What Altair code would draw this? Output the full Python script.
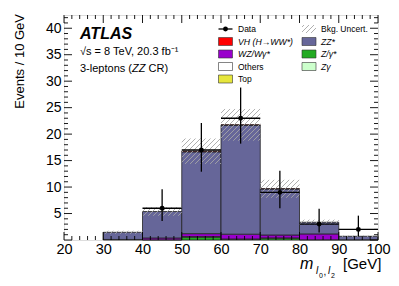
import altair as alt
import pandas as pd
import numpy as np

# ---------------- data ----------------
bin_lo = [20, 30, 40, 50, 60, 70, 80, 90]
bin_hi = [30, 40, 50, 60, 70, 80, 90, 100]
comp_names = ["Zγ", "Z/γ*", "Top", "Others", "WZ/Wγ*", "ZZ*", "VH (H→WW*)"]
zgam = [0, 0, 0, 0, 0, 0, 0, 0]
zgstar = [0, 0, 0, 0.5, 0.1, 0.3, 0, 0]
top = [0, 0, 0, 0, 0, 0, 0, 0]
others = [0, 0, 0.03, 0.15, 0.1, 0.1, 0.05, 0]
wz = [0, 0.1, 0.35, 0.55, 0.9, 0.55, 1.1, 0.05]
zz = [0, 1.35, 5.0, 15.45, 20.6, 8.7, 2.2, 0.65]
vh = [0, 0, 0, 0.12, 0.05, 0.02, 0, 0]
bkg_unc = [0, 0.3, 0.8, 2.4, 3.0, 1.7, 0.5, 0.15]

data_x = [45, 55, 65, 75, 85, 95]
data_y = [6, 17, 23, 9, 3, 2]
data_lo = [3.6, 12.9, 18.2, 6.0, 1.4, 0.7]
data_hi = [9.6, 22.1, 28.8, 13.1, 5.9, 4.6]
data_xlo = [40, 50, 60, 70, 80, 90]
data_xhi = [50, 60, 70, 80, 90, 100]

x_tick_labels = [20, 30, 40, 50, 60, 70, 80, 90, 100]
y_tick_labels = [5, 10, 15, 20, 25, 30, 35, 40]

# ---------------- style ----------------
FONT = "Liberation Sans"
comp_colors = ["#ccffcc", "#22aa22", "#e6e63c", "#ffffff", "#9900cc", "#666699", "#ff0000"]
W, H = 314, 225
XMIN, XMAX, YMAX = 20, 100, 42.5
xs = alt.Scale(domain=[XMIN, XMAX], nice=False, zero=False)
ys = alt.Scale(domain=[0, YMAX], nice=False, zero=False)
cs = alt.Scale(domain=comp_names, range=comp_colors)

xaxis = alt.Axis(values=x_tick_labels, ticks=False, domain=False, grid=False, title=None,
                 labelFont=FONT, labelFontSize=14.5, labelPadding=2, labelColor="black",
                 labelFlush=False)
yaxis = alt.Axis(values=y_tick_labels, ticks=False, domain=False, grid=False, title=None,
                 labelFont=FONT, labelFontSize=14, labelPadding=3, labelColor="black")


def X(f):
    return alt.X(f, scale=xs, axis=xaxis)


def Y(f):
    return alt.Y(f, scale=ys, axis=yaxis)


def px2x(u):
    return XMIN + u / W * (XMAX - XMIN)


def py2y(p):
    return YMAX * (1 - p / H)


# ---------------- stacked histogram ----------------
comps = [zgam, zgstar, top, others, wz, zz, vh]
rows = []
for i in range(len(bin_lo)):
    base = 0.0
    for name, vals in zip(comp_names, comps):
        v = vals[i]
        if v > 0:
            rows.append(dict(x0=bin_lo[i], x1=bin_hi[i], y0=base, y1=base + v, comp=name))
        base += v
stack_df = pd.DataFrame(rows)
totals = [sum(c[i] for c in comps) for i in range(len(bin_lo))]

bars = alt.Chart(stack_df).mark_rect(stroke="#222222", strokeWidth=0.8).encode(
    x=X("x0:Q"), x2="x1:Q", y=Y("y0:Q"), y2="y1:Q",
    color=alt.Color("comp:N", scale=cs, legend=None))


# ---------------- hatch for uncertainty ----------------
def hatch(ua, ub, vlo, vhi, d=5.0):
    segs = []
    kmin = int(np.floor((vlo - ub) / d)) - 1
    kmax = int(np.ceil((vhi - ua) / d)) + 1
    for k in range(kmin, kmax + 1):
        c = k * d
        u0 = max(ua, vlo - c)
        u1 = min(ub, vhi - c)
        if u1 - u0 > 0.3:
            segs.append((u0, u0 + c, u1, u1 + c))
    return segs


hrows = []
for i in range(len(bin_lo)):
    if bkg_unc[i] <= 0:
        continue
    ua = (bin_lo[i] - XMIN) / (XMAX - XMIN) * W
    ub = (bin_hi[i] - XMIN) / (XMAX - XMIN) * W
    vlo = max(0, totals[i] - bkg_unc[i]) / YMAX * H
    vhi = (totals[i] + bkg_unc[i]) / YMAX * H
    for (a, b, c, d) in hatch(ua, ub, vlo, vhi):
        hrows.append(dict(x=px2x(a), y=b / H * YMAX, x2=px2x(c), y2=d / H * YMAX))
# legend hatch box (plot pixels: x 238..252, y 10..18)
for (a, b, c, d) in hatch(238, 252, H - 18, H - 10):
    hrows.append(dict(x=px2x(a), y=b / H * YMAX, x2=px2x(c), y2=d / H * YMAX))
hatch_df = pd.DataFrame(hrows)
hatch_layer = alt.Chart(hatch_df).mark_rule(color="#a6a6a6", strokeWidth=0.9).encode(
    x=X("x:Q"), y=Y("y:Q"), x2="x2:Q", y2="y2:Q")

# ---------------- data points ----------------
ddf = pd.DataFrame(dict(x=data_x, y=data_y, lo=data_lo, hi=data_hi, xlo=data_xlo, xhi=data_xhi))
err_v = alt.Chart(ddf).mark_rule(color="black", strokeWidth=1.3).encode(
    x=X("x:Q"), y=Y("lo:Q"), y2="hi:Q")
err_h = alt.Chart(ddf).mark_rule(color="black", strokeWidth=1.3).encode(
    x=X("xlo:Q"), x2="xhi:Q", y=Y("y:Q"))
pts = alt.Chart(ddf).mark_point(filled=True, color="black", size=24, opacity=1).encode(
    x=X("x:Q"), y=Y("y:Q"))

# ---------------- legend ----------------
col_box = {0: (154.5, 168.5), 1: (238, 252)}
col_lab = {0: 174, 1: 257}
row_y = [14, 26.5, 39, 51.5, 64]
leg_items = [
    ("VH (H→WW*)", 0, 1, True), ("WZ/Wγ*", 0, 2, True), ("Others", 0, 3, False),
    ("Top", 0, 4, False), ("ZZ*", 1, 1, True), ("Z/γ*", 1, 2, True), ("Zγ", 1, 3, True),
]
lrows = []
for lab, col, r, ital in leg_items:
    lrows.append(dict(comp=lab, x0=px2x(col_box[col][0]), x1=px2x(col_box[col][1]),
                      y0=py2y(row_y[r] + 4), y1=py2y(row_y[r] - 4)))
leg_rect_df = pd.DataFrame(lrows)
leg_rects = alt.Chart(leg_rect_df).mark_rect(stroke="#333333", strokeWidth=0.6).encode(
    x=X("x0:Q"), x2="x1:Q", y=Y("y0:Q"), y2="y1:Q",
    color=alt.Color("comp:N", scale=cs, legend=None))

lab_rows = [dict(label="Data", x=px2x(col_lab[0]), y=py2y(row_y[0]), ital=False),
            dict(label="Bkg. Uncert.", x=px2x(col_lab[1]), y=py2y(row_y[0]), ital=False)]
for lab, col, r, ital in leg_items:
    lab_rows.append(dict(label=lab, x=px2x(col_lab[col]), y=py2y(row_y[r]), ital=ital))
lab_df = pd.DataFrame(lab_rows)
leg_txt_n = alt.Chart(lab_df[~lab_df.ital]).mark_text(
    align="left", baseline="middle", font=FONT, fontSize=8.5, color="black").encode(
    x=X("x:Q"), y=Y("y:Q"), text="label:N")
leg_txt_i = alt.Chart(lab_df[lab_df.ital]).mark_text(
    align="left", baseline="middle", font=FONT, fontSize=8.7, fontStyle="italic",
    color="black").encode(x=X("x:Q"), y=Y("y:Q"), text="label:N")

ldata = pd.DataFrame(dict(x0=[px2x(col_box[0][0])], x1=[px2x(col_box[0][1])],
                          xc=[px2x(sum(col_box[0]) / 2)], y=[py2y(row_y[0])]))
leg_dline = alt.Chart(ldata).mark_rule(color="black", strokeWidth=1.3).encode(
    x=X("x0:Q"), x2="x1:Q", y=Y("y:Q"))
leg_dpt = alt.Chart(ldata).mark_point(filled=True, color="black", size=24, opacity=1).encode(
    x=X("xc:Q"), y=Y("y:Q"))

# ---------------- frame ticks (inside) ----------------
x_major = list(range(20, 101, 10))
x_minor = [v for v in range(20, 101, 2) if v % 10 != 0]
y_major = list(range(0, 43, 5))
y_minor = [v for v in range(0, 43) if v % 5 != 0]


def xticks(vals, length, bottom):
    df = pd.DataFrame({"v": vals})
    y0, y1 = (H, H - length) if bottom else (0, length)
    return alt.Chart(df).mark_rule(color="black", strokeWidth=0.9).encode(
        x=X("v:Q"), y=alt.value(y0), y2=alt.value(y1))


def yticks(vals, length, left):
    df = pd.DataFrame({"v": vals})
    x0, x1 = (0, length) if left else (W, W - length)
    return alt.Chart(df).mark_rule(color="black", strokeWidth=0.9).encode(
        y=Y("v:Q"), x=alt.value(x0), x2=alt.value(x1))


tick_layers = [xticks(x_major, 8, True), xticks(x_minor, 4, True),
               xticks(x_major, 8, False), xticks(x_minor, 4, False),
               yticks(y_major, 8, True), yticks(y_minor, 4, True),
               yticks(y_major, 8, False), yticks(y_minor, 4, False)]

# ---------------- free texts ----------------
one = pd.DataFrame({"a": [0]})


def txt(s, x, y, size, style="normal", weight="normal", angle=0, align="left",
        baseline="alphabetic"):
    return alt.Chart(one).mark_text(
        text=s, font=FONT, fontSize=size, fontStyle=style, fontWeight=weight,
        angle=angle, align=align, baseline=baseline, color="black").encode(
        x=alt.value(x), y=alt.value(y))


texts = [
    txt("ATLAS", 16, 24.3, 16, style="italic", weight="bold"),
    txt("√s = 8 TeV, 20.3 fb⁻¹", 16, 40, 11),
    txt("3-leptons (", 16, 57, 11),
    txt("ZZ", 68, 57, 11, style="italic"),
    txt("CR)", 84.5, 57, 11),
    txt("Events / 10 GeV", -44.5, -1, 13, angle=270, align="right", baseline="middle"),
    txt("m", 236, 254, 16, style="italic"),
    txt("l", 252, 259, 10, style="italic"),
    txt("0", 255, 263, 7),
    txt(",", 259.5, 259.5, 10),
    txt("l", 264, 259, 10, style="italic"),
    txt("2", 267, 263, 7),
    txt("[GeV]", 279, 254, 15),
]

chart = alt.layer(
    bars, hatch_layer, err_v, err_h, pts, leg_rects, leg_dline, leg_dpt,
    leg_txt_n, leg_txt_i, *tick_layers, *texts
).properties(
    width=W, height=H,
    autosize=alt.AutoSizeParams(type="none"),
    padding={"left": 56, "top": 7, "right": 13, "bottom": 38},
    background="white",
).configure_view(stroke="black", strokeWidth=1).configure(font=FONT)

chart.save("out.html", embed_options={"renderer": "svg", "actions": False})
